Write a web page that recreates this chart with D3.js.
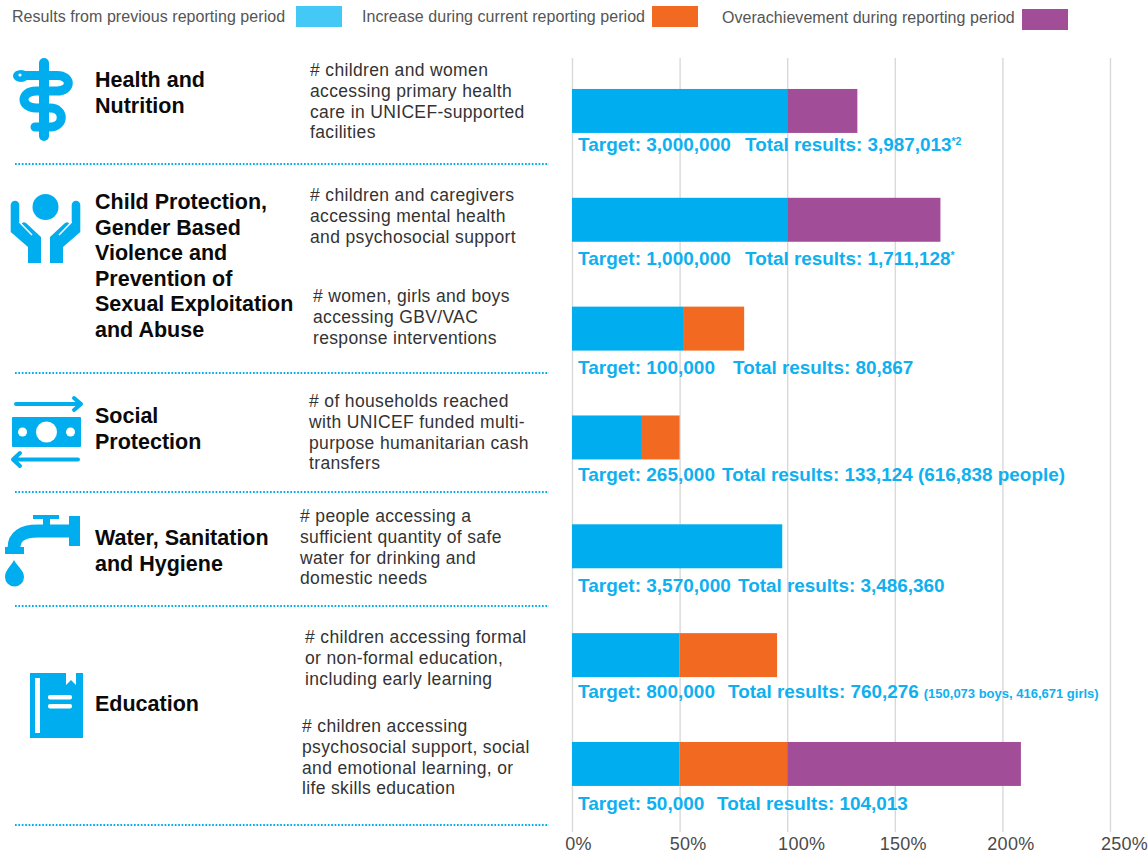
<!DOCTYPE html>
<html><head><meta charset="utf-8">
<script src="https://cdn.jsdelivr.net/npm/d3@7/dist/d3.min.js"></script>
<style>html,body{margin:0;padding:0;background:#fff}svg{display:block}text{font-family:"Liberation Sans",Arial,sans-serif}</style>
</head><body><svg id="c" width="1148" height="854"></svg>
<script>
// ---- data ----
const indicators = ["health","mental","gbv","cash","water","edu","pss"];
const previousPeriod = [100,100,52,32.5,97.7,50,50];
const increasePeriod = [0,0,28,17.5,0,45.3,50];
const overachievement = [32.6,71.2,0,0,0,0,108.6];
const targetLabels = ["Target: 3,000,000","Target: 1,000,000","Target: 100,000","Target: 265,000","Target: 3,570,000","Target: 800,000","Target: 50,000"];
const totalLabels = ["Total results: 3,987,013","Total results: 1,711,128","Total results: 80,867","Total results: 133,124 (616,838 people)","Total results: 3,486,360","Total results: 760,276","Total results: 104,013"];
const totalSuffixes = ["*2","*","","","","",""];
const totalNotes = ["","","","","","(150,073 boys, 416,671 girls)",""];
const axisTicks = [0,50,100,150,200,250];
const legendLabels = ["Results from previous reporting period","Increase during current reporting period","Overachievement during reporting period"];
const sectorNames = [["Health and","Nutrition"],["Child Protection,","Gender Based","Violence and","Prevention of","Sexual Exploitation","and Abuse"],["Social","Protection"],["Water, Sanitation","and Hygiene"],["Education"]];
const indicatorTexts = [
 ["# children and women","accessing primary health","care in UNICEF-supported","facilities"],
 ["# children and caregivers","accessing mental health","and psychosocial support"],
 ["# women, girls and boys","accessing GBV/VAC","response interventions"],
 ["# of households reached","with UNICEF funded multi-","purpose humanitarian cash","transfers"],
 ["# people accessing a","sufficient quantity of safe","water for drinking and","domestic needs"],
 ["# children accessing formal","or non-formal education,","including early learning"],
 ["# children accessing","psychosocial support, social","and emotional learning, or","life skills education"]];

// ---- layout (not data) ----
const blue="#00aeef", orange="#f26a21", purple="#a14d97", legendBlue="#44c8f5";
const sectorLayout=[[87],[209],[423],[545],[711]];
const indicatorLayout=[[310,76],[310,201],[313,302],[309,407],[300,522],[305,643],[302,732]];
const labelBase=[151,265,374,481,592,698,810];
const totalX=[745,745,733,722,738,728,717];
const ruleYs=[164,373,492,606,825];
const axisLabelShift=[6,8,14,8,8,14];

const svg=d3.select("#c");
const x=d3.scaleLinear().domain([0,250]).range([572,1110]);
const y=d3.scaleBand().domain(indicators).range([24.1,850.8]).padding(0.596);

// grid + axis
const axis=d3.axisBottom(x).tickValues(axisTicks).tickFormat(d=>d+"%").tickSize(-774).tickPadding(5);
const gAxis=svg.append("g").attr("transform","translate(0,832)").call(axis);
gAxis.select(".domain").remove();
gAxis.selectAll(".tick line").attr("stroke","#d9d9d9").attr("stroke-width",1.4);
gAxis.selectAll(".tick text").attr("fill","#4a4a4a").attr("font-size",18).attr("letter-spacing",0.3).attr("text-anchor","middle").attr("dx",(d,i)=>axisLabelShift[i]);

// bars
const rows=indicators.map((k,i)=>({key:k,prev:previousPeriod[i],inc:increasePeriod[i],over:overachievement[i]}));
const stack=d3.stack().keys(["prev","inc","over"])(rows);
const color=d3.scaleOrdinal().domain(["prev","inc","over"]).range([blue,orange,purple]);
svg.append("g").selectAll("g").data(stack).join("g").attr("fill",d=>color(d.key))
 .selectAll("rect").data(d=>d).join("rect")
 .attr("x",d=>x(d[0])).attr("width",d=>x(d[1])-x(d[0]))
 .attr("y",d=>y(d.data.key)).attr("height",y.bandwidth());

// bar labels
const lab=svg.append("g").attr("fill","#0fb0ef").attr("font-weight","bold");
indicators.forEach((k,i)=>{
  lab.append("text").attr("x",578).attr("y",labelBase[i]).attr("font-size",19).text(targetLabels[i]);
  const t=lab.append("text").attr("x",totalX[i]).attr("y",labelBase[i]).attr("font-size",18.9).text(totalLabels[i]);
  if(totalSuffixes[i]) t.append("tspan").attr("font-size",10.5).attr("dy",-6).text(totalSuffixes[i]);
  if(totalNotes[i]) t.append("tspan").attr("font-size",13).attr("dx",5).text(totalNotes[i]);
});

// legend
const leg=svg.append("g").attr("fill","#555").attr("font-size",16).attr("letter-spacing",0.05);
[[12,22],[362,22],[722,23]].forEach((p,i)=>leg.append("text").attr("x",p[0]).attr("y",p[1]).text(legendLabels[i]));
[[296,6,legendBlue],[652,6,orange],[1022,9,purple]].forEach(p=>svg.append("rect").attr("x",p[0]).attr("y",p[1]).attr("width",46).attr("height",21).attr("fill",p[2]));

// sector names
const sec=svg.append("g").attr("font-weight","bold").attr("font-size",21.5).attr("fill","#0a0a0a");
sectorNames.forEach((ls,i)=>ls.forEach((l,j)=>sec.append("text").attr("x",95).attr("y",sectorLayout[i][0]+j*25.5).text(l)));

// indicator texts
const ind=svg.append("g").attr("font-size",17.5).attr("letter-spacing",0.35).attr("fill","#333");
indicatorTexts.forEach((ls,i)=>ls.forEach((l,j)=>ind.append("text").attr("x",indicatorLayout[i][0]).attr("y",indicatorLayout[i][1]+j*20.8).text(l)));

// dotted rules
svg.append("g").selectAll("line").data(ruleYs).join("line")
 .attr("x1",15).attr("x2",549).attr("y1",d=>d).attr("y2",d=>d)
 .attr("stroke",blue).attr("stroke-width",2).attr("stroke-dasharray","1.7 1.7");

// icons
const ic=svg.append("g").attr("fill",blue);
// health
ic.append("rect").attr("x",39).attr("y",58).attr("width",10).attr("height",83).attr("rx",5);
ic.append("path").attr("fill","none").attr("stroke",blue).attr("stroke-width",9).attr("stroke-linecap","round")
 .attr("d","M18,75.5 H57 C72,75.5 72,91 57,91 H36 C20,91 20,108 36,108 H50 C65,108 65,127 50,127 H35");
ic.append("ellipse").attr("cx",21).attr("cy",76).attr("rx",8).attr("ry",6);
ic.append("circle").attr("cx",20).attr("cy",75).attr("r",1.6).attr("fill","#fff");
// hands
ic.append("circle").attr("cx",45.5).attr("cy",207).attr("r",13);
[0,1].forEach(m=>{
 const g=ic.append("g").attr("transform",m?"translate(91,0) scale(-1,1)":null);
 g.append("path").attr("d","M10.7,205 a4.3,4.3 0 0 1 8.6,0 V222 L21.5,224 Q23,221 26,223 L41,237 V263 H28 V247 L10.7,232 Z");
 g.append("path").attr("d","M19.3,222 L32,235").attr("stroke","#fff").attr("stroke-width",1.5);
});
// money
ic.append("rect").attr("x",12).attr("y",417).attr("width",69).attr("height",30).attr("rx",1);
[[46.5,10.5],[22.5,4.5],[70.5,4.5]].forEach(c=>ic.append("circle").attr("cx",c[0]).attr("cy",432).attr("r",c[1]).attr("fill","#fff"));
const st=ic.append("g").attr("fill","none").attr("stroke",blue).attr("stroke-width",4).attr("stroke-linecap","round").attr("stroke-linejoin","round");
st.append("path").attr("d","M16,404 H81 M74,398 L81,404 L74,410");
st.append("path").attr("d","M78,459.5 H13 M20,453 L13,459.5 L20,466");
// tap
ic.append("rect").attr("x",33).attr("y",515).attr("width",26).attr("height",4);
ic.append("rect").attr("x",43).attr("y",519).attr("width",7).attr("height",8);
ic.append("rect").attr("x",69).attr("y",516).attr("width",11).attr("height",30);
ic.append("path").attr("fill","none").attr("stroke",blue).attr("stroke-width",13).attr("d","M70,531 H38 Q14,531 14,548");
ic.append("rect").attr("x",5).attr("y",547).attr("width",19).attr("height",7);
ic.append("path").attr("d","M14,560 C17,566 24,570 24,577 A9.5,9.5 0 0 1 5,577 C5,570 11,566 14,560 Z");
// book
ic.append("path").attr("d","M30,673 H66 V685 L71,680 L76,685 V673 H83 V738 H30 Z");
[[35,678,5,55],[48,695,24,4.5],[48,704,24,4.5]].forEach(r=>ic.append("rect").attr("x",r[0]).attr("y",r[1]).attr("width",r[2]).attr("height",r[3]).attr("rx",r[2]>10?2:0).attr("fill","#fff"));
</script></body></html>
